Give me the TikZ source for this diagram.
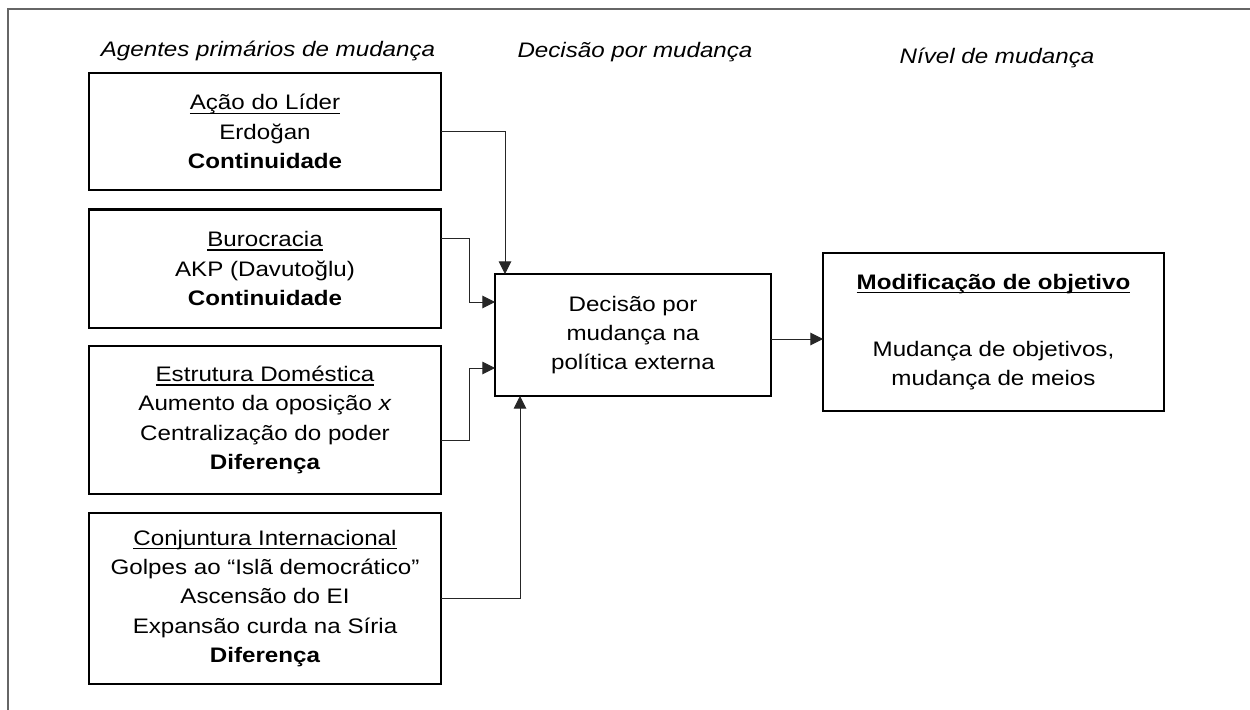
\documentclass[tikz,border=0pt]{standalone}
\usepackage{fontspec}
\setmainfont{Liberation Sans}[FakeStretch=1.15]
\usetikzlibrary{arrows.meta}

% underline at a fixed depth below the baseline
\newcommand{\undl}[1]{\mbox{\setbox0=\hbox{#1}\rlap{\rule[-3pt]{\wd0}{0.9pt}}\box0}}

\tikzset{every picture/.style={line width=0.75pt}}
\tikzset{
  txt/.style={font=\fontsize{15.75pt}{22pt}\selectfont, align=center, inner sep=0.75pt, outer sep=0pt},
  agentbox/.style={txt, draw, line width=2pt, minimum width=264pt},
  head/.style={txt, anchor=base, font=\fontsize{15.75pt}{22pt}\selectfont\itshape},
  conn/.style={draw=black!85, line width=0.75pt, -{Triangle[length=9.5pt,width=9.5pt]}}
}

\begin{document}
\begin{tikzpicture}[x=0.75pt,y=0.75pt,yscale=-1,xscale=1]
\useasboundingbox (0,0) rectangle (1250,710);

%Straight Lines (frame)
\draw [draw=black!60, line width=1.2pt] (8,710) -- (8,9) -- (1250,9) ;

% Text Node
\node [head] (hagentes) at (268,57) {Agentes primários de mudança};
% Text Node
\node [head] (hdecisao) at (635,58) {Decisão por mudança};
% Text Node
\node [head] (hnivel) at (997,64) {Nível de mudança};

%Shape: Rectangle
\node [agentbox, minimum height=87.75pt] (lider) at (265,131.5)
  {\undl{Ação do Líder}\\Erdoğan\\\textbf{Continuidade}};
%Shape: Rectangle
\node [agentbox, minimum height=89pt] (burocracia) at (265,268.5)
  {\undl{Burocracia}\\AKP (Davutoğlu)\\\textbf{Continuidade}};
%Shape: Rectangle
\node [agentbox, minimum height=111pt] (estrutura) at (265,420)
  {\undl{Estrutura Doméstica}\\Aumento da oposição \textit{x}\\Centralização do poder\\\textbf{Diferença}};
%Shape: Rectangle
\node [agentbox, minimum height=128.25pt] (conjuntura) at (265,598.5)
  {\undl{Conjuntura Internacional}\\Golpes ao “Islã democrático”\\Ascensão do EI\\Expansão curda na Síria\\\textbf{Diferença}};

%Shape: Rectangle
\node [agentbox, minimum width=207pt, minimum height=91.5pt] (decisao) at (633,335)
  {Decisão por\\mudança na\\política externa};
%Shape: Rectangle
\node [agentbox, minimum width=255.75pt, minimum height=118.5pt] (modificacao) at (993.5,332)
  {\undl{\textbf{Modificação de objetivo}}\\[28pt]Mudança de objetivos,\\mudança de meios};

%Straight Lines
\draw [conn] (lider.east) -| (decisao.north -| 505,0) ;
%Straight Lines
\draw [conn] (burocracia.east |- 0,238) -- (469,238) |- (decisao.west |- 0,302) ;
%Straight Lines
\draw [conn] (estrutura.east |- 0,440) -- (469,440) |- (decisao.west |- 0,368) ;
%Straight Lines
\draw [conn] (conjuntura.east) -| (decisao.south -| 520,0) ;
%Straight Lines
\draw [conn] (decisao.east |- 0,339) -- (modificacao.west |- 0,339) ;

\end{tikzpicture}
\end{document}
